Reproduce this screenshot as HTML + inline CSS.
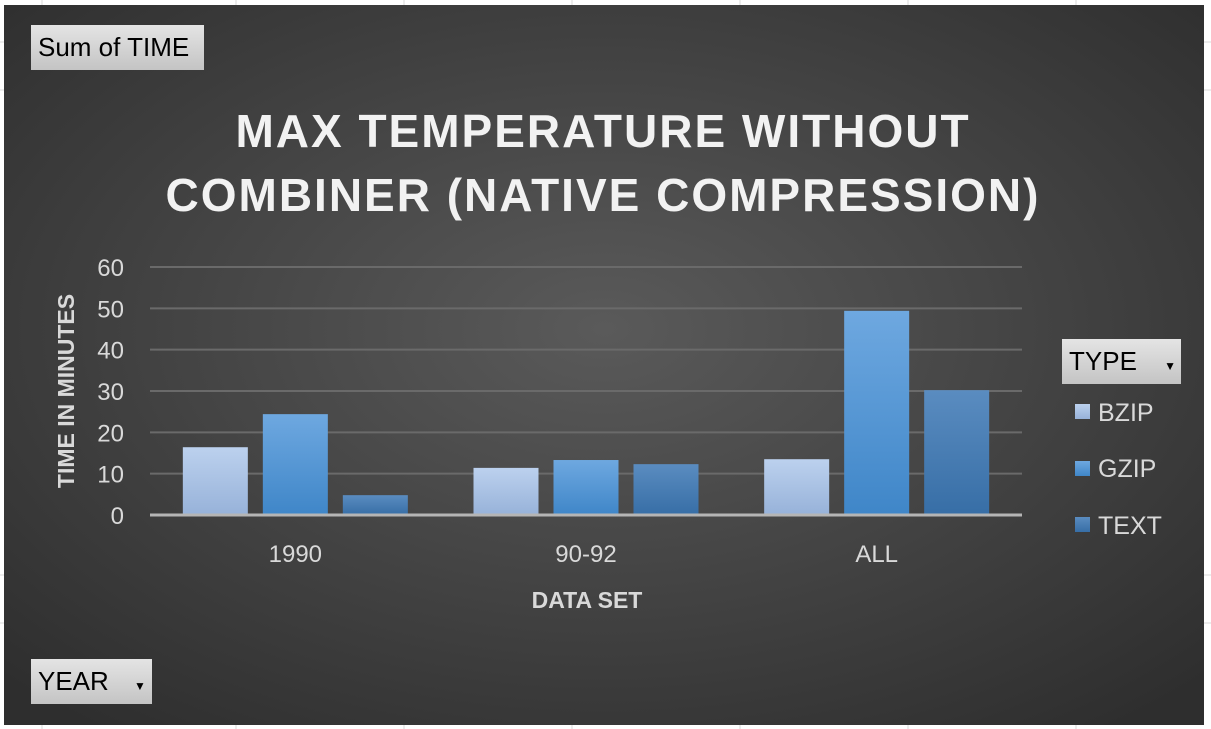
<!DOCTYPE html>
<html><head><meta charset="utf-8"><style>
body{margin:0;width:1211px;height:729px;overflow:hidden;background:#fff;font-family:"Liberation Sans","DejaVu Sans",sans-serif;position:relative}
.btn{position:absolute;background:linear-gradient(#e4e4e4,#c4c4c4);color:#000;font-size:26px;box-sizing:border-box;padding-left:7px;line-height:44px}
</style></head><body>
<svg width="1211" height="729" style="position:absolute;left:0;top:0">
<g stroke="#d8d8d8" stroke-width="1">
<line x1="42" y1="0" x2="42" y2="729"/><line x1="236" y1="0" x2="236" y2="729"/><line x1="404" y1="0" x2="404" y2="729"/><line x1="572" y1="0" x2="572" y2="729"/><line x1="740" y1="0" x2="740" y2="729"/><line x1="908" y1="0" x2="908" y2="729"/><line x1="1076" y1="0" x2="1076" y2="729"/>
<line x1="0" y1="42" x2="1211" y2="42"/><line x1="0" y1="90" x2="1211" y2="90"/><line x1="0" y1="575" x2="1211" y2="575"/><line x1="0" y1="623" x2="1211" y2="623"/>
</g>
<defs><radialGradient id="bg" cx="0.5" cy="0.45" r="0.7"><stop offset="0" stop-color="#5a5a5a"/><stop offset="1" stop-color="#2e2e2e"/></radialGradient>
<linearGradient id="g0" x1="0" y1="0" x2="0" y2="1"><stop offset="0" stop-color="#bcd1ee"/><stop offset="1" stop-color="#97b2d9"/></linearGradient>
<linearGradient id="g1" x1="0" y1="0" x2="0" y2="1"><stop offset="0" stop-color="#6ea8e0"/><stop offset="1" stop-color="#3f86c8"/></linearGradient>
<linearGradient id="g2" x1="0" y1="0" x2="0" y2="1"><stop offset="0" stop-color="#5a8cc0"/><stop offset="1" stop-color="#376ea6"/></linearGradient></defs>
<rect x="4" y="5" width="1200" height="720" fill="url(#bg)"/>
<text x="603" y="147" text-anchor="middle" fill="#f2f2f2" font-size="46" font-weight="bold" letter-spacing="2">MAX TEMPERATURE WITHOUT</text>
<text x="603" y="211" text-anchor="middle" fill="#f2f2f2" font-size="46" font-weight="bold" letter-spacing="2">COMBINER (NATIVE COMPRESSION)</text>
<g id="plot"></g>
<text x="587" y="608" text-anchor="middle" fill="#d9d9d9" font-size="23" font-weight="bold">DATA SET</text>
<text transform="translate(74,391) rotate(-90)" text-anchor="middle" fill="#d9d9d9" font-size="23" font-weight="bold">TIME IN MINUTES</text>
<g>
<rect x="1075" y="404" width="15" height="15" fill="url(#g0)"/>
<text x="1098" y="421" fill="#d9d9d9" font-size="25">BZIP</text>
<rect x="1075" y="461" width="15" height="15" fill="url(#g1)"/>
<text x="1098" y="477" fill="#d9d9d9" font-size="25">GZIP</text>
<rect x="1075" y="517" width="15" height="15" fill="url(#g2)"/>
<text x="1098" y="534" fill="#d9d9d9" font-size="25">TEXT</text>
</g>
</svg>
<div class="btn" style="left:31px;top:25px;width:173px;height:45px">Sum of TIME</div>
<div class="btn" style="left:1062px;top:339px;width:119px;height:45px">TYPE <span style="font-size:12px;margin-left:20px">▼</span></div>
<div class="btn" style="left:31px;top:659px;width:121px;height:45px">YEAR <span style="font-size:12px;margin-left:18px">▼</span></div>
<script>
const categories=["1990","90-92","ALL"];
const seriesNames=["BZIP","GZIP","TEXT"];
const bzip=[16.4,11.4,13.5];
const gzip=[24.4,13.3,49.4];
const text=[4.8,12.3,30.2];
const yTicks=[0,10,20,30,40,50,60];
const NS="http://www.w3.org/2000/svg";
const g=document.getElementById('plot');
const x0=150,x1=1022,yBase=515,yTop=267,yMax=60;
const ys=v=>yBase-(v/yMax)*(yBase-yTop);
const band=(x1-x0)/categories.length;
const xc=i=>x0+band*(i+0.5);
function mk(t,a){const e=document.createElementNS(NS,t);for(const k in a)e.setAttribute(k,a[k]);g.appendChild(e);return e;}
yTicks.forEach(t=>{
 if(t>0){const l=mk('line',{x1:x0,x2:x1,y1:ys(t),y2:ys(t),stroke:'#6a6a6a','stroke-width':2});
 
 }
 const tx=mk('text',{x:124,y:ys(t)+9,'text-anchor':'end',fill:'#d9d9d9','font-size':24});tx.textContent=t;
 
 
});
const series=[bzip,gzip,text];
const bw=65,gap=15;
categories.forEach((c,i)=>{
 series.forEach((s,j)=>{
  const x=xc(i)+(j-1)*(bw+gap)-bw/2;
  const r=mk('rect',{x:x,y:ys(s[i]),width:bw,height:yBase-ys(s[i]),fill:'url(#g'+j+')'});
  
  
 });
 const tx=mk('text',{x:xc(i),y:562,'text-anchor':'middle',fill:'#d9d9d9','font-size':24});tx.textContent=c;
 
 
});
const ax=mk('line',{x1:x0,x2:x1,y1:yBase,y2:yBase,stroke:'#b5b5b5','stroke-width':3});


</script>
</body></html>
